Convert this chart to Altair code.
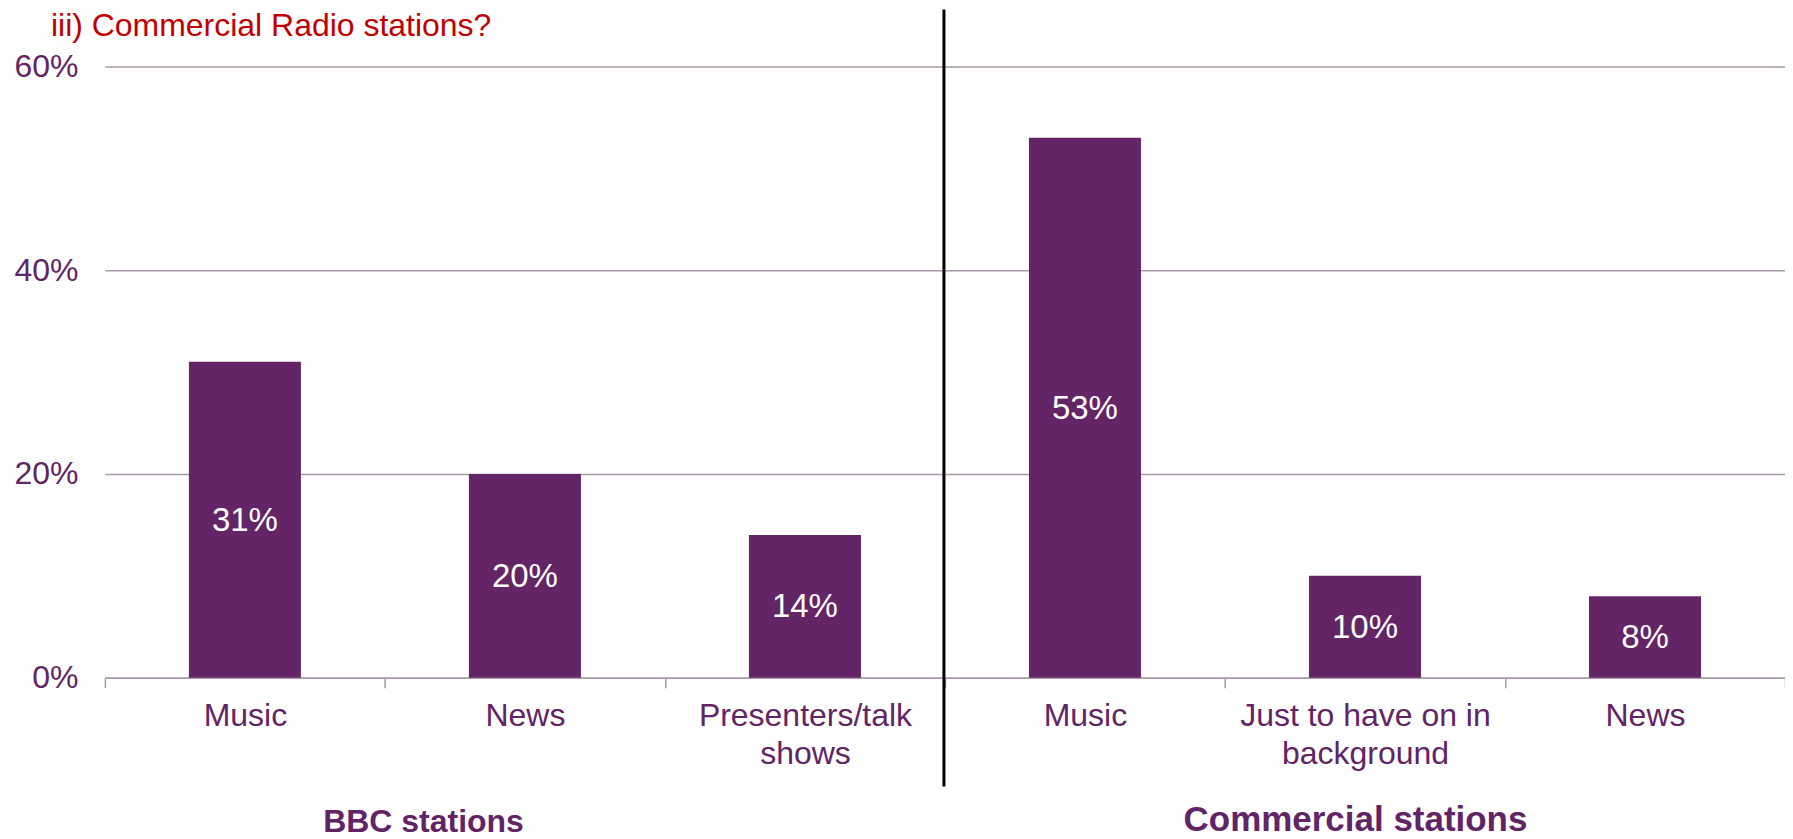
import altair as alt
import pandas as pd

# ---- data ----
groups = ["BBC stations", "BBC stations", "BBC stations",
          "Commercial stations", "Commercial stations", "Commercial stations"]
categories = ["Music", "News", "Presenters/talk\nshows",
              "Music", "Just to have on in\nbackground", "News"]
values = [31, 20, 14, 53, 10, 8]
y_ticks = [0, 20, 40, 60]
group_names = ["BBC stations", "Commercial stations"]
title_text = "iii) Commercial Radio stations?"

keys = [f"{g}|{c}" for g, c in zip(groups, categories)]
df = pd.DataFrame({"key": keys, "group": groups, "value": values})

FONT = "Liberation Sans"
PURPLE = "#612466"
BAR = "#632566"
GRID = "#A898AA"

x_enc = alt.X(
    "key:N", sort=keys,
    scale=alt.Scale(paddingInner=0, paddingOuter=0),
    axis=alt.Axis(
        title=None, labelAngle=0, labelFontSize=32, labelColor=PURPLE, labelFont=FONT,
        labelExpr="datum.label ? split(split(datum.label, '|')[1], '\\n') : ''",
        labelLineHeight=38, labelPadding=13, labelLimit=0,
        domainColor=GRID, domainWidth=1.5, tickColor=GRID, tickWidth=1.5,
        tickSize=10, tickBand="extent", grid=False,
    ),
)
y_enc = alt.Y(
    "value:Q",
    scale=alt.Scale(domain=[0, 60], nice=False),
    axis=alt.Axis(
        title=None, values=y_ticks, labelExpr="datum.value + '%'",
        labelFontSize=32, labelColor=PURPLE, labelFont=FONT, labelPadding=27,
        domain=False, ticks=False, grid=True, gridColor=GRID, gridWidth=1.5,
    ),
)

base = alt.Chart(df)

bars = base.mark_bar(width=alt.RelativeBandSize(0.4), color=BAR).encode(x=x_enc, y=y_enc)

labels = base.transform_calculate(mid="datum.value / 2", txt="datum.value + '%'").mark_text(
    color="white", fontSize=33, font=FONT, baseline="middle", align="center", dy=1
).encode(
    x=alt.X("key:N", sort=keys),
    y=alt.Y("mid:Q"),
    text="txt:N",
)

one = pd.DataFrame({"a": [0]})
divider = alt.Chart(one).mark_rule(color="black", strokeWidth=3).encode(
    x=alt.value(840), y=alt.value(-57), y2=alt.value(721)
)

title = alt.Chart(pd.DataFrame({"t": [title_text]})).mark_text(
    align="left", baseline="middle", fontSize=32, font=FONT, color="#C00000"
).encode(x=alt.value(-54), y=alt.value(-40), text="t:N")

bbc_text = alt.Chart(pd.DataFrame({"g": [group_names[0]]})).mark_text(
    align="center", baseline="middle", fontSize=32, font=FONT, fontWeight="bold", color=PURPLE
).encode(x=alt.value(319), y=alt.value(756), text="g:N")

com_text = alt.Chart(pd.DataFrame({"g": [group_names[1]]})).mark_text(
    align="center", baseline="middle", fontSize=35, font=FONT, fontWeight="bold", color=PURPLE
).encode(x=alt.value(1252), y=alt.value(754), text="g:N")

chart = alt.layer(bars, labels, divider, title, bbc_text, com_text).properties(
    width=1682, height=612,
    autosize=alt.AutoSizeParams(type="none"),
    padding={"left": 97, "top": 58, "right": 0, "bottom": 160},
).configure(font=FONT).configure_view(stroke=None, strokeWidth=0)

chart.save("out.html", embed_options={"renderer": "svg", "actions": False})
